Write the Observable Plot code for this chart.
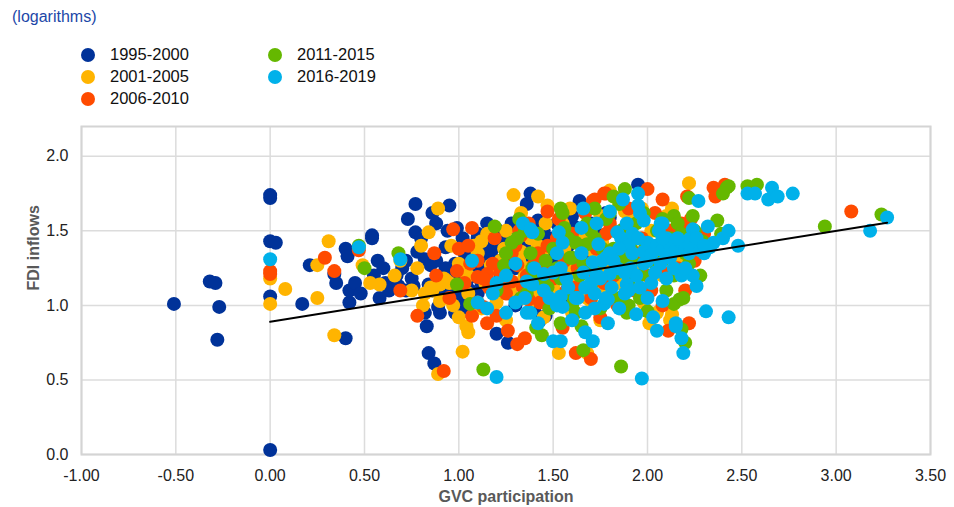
<!DOCTYPE html>
<html>
<head>
<meta charset="utf-8">
<script src="https://cdn.jsdelivr.net/npm/d3@7"></script>
<script src="https://cdn.jsdelivr.net/npm/@observablehq/plot@0.6"></script>
<style>
  body { margin: 0; background: #fff; font-family: "Liberation Sans", Arial, sans-serif; }
  #wrap { position: relative; width: 954px; height: 507px; overflow: hidden; }
  #title { position: absolute; left: 12px; top: 8px; font-size: 16px; color: #1c47a8; }
  .leg { position: absolute; font-size: 16.5px; color: #111; display: flex; align-items: center; }
  .leg span.sw { width: 14px; height: 14px; border-radius: 50%; display: inline-block; margin-right: 15px; }
  #chart { position: absolute; left: 0; top: 118px; }
</style>
</head>
<body>
<div id="wrap">
  <div id="title">(logarithms)</div>
  <div id="legend"></div>
  <div id="chart"></div>
</div>
<script>
// Period labels and colours
const periods = ["1995-2000", "2001-2005", "2006-2010", "2011-2015", "2016-2019"];
const colors = ["#003299", "#ffb400", "#ff4b00", "#65b800", "#00b1ea"];

// Points: [GVC participation, FDI inflows] (logarithms)
const s1995 = [[-0.51,1.01],[-0.32,1.16],[-0.29,1.15],[-0.27,0.99],[-0.28,0.77],[0,1.74],[0,1.72],[0,1.43],[0.03,1.42],[0,1.06],[0,0.03],[0.17,1.01],[0.21,1.27],[0.34,1.21],[0.35,1.15],[0.40,1.38],[0.41,1.33],[0.40,0.78],[0.42,1.02],[0.42,1.10],[0.54,1.47],[0.54,1.45],[0.57,1.30],[0.61,1.15],[0.63,1.10],[0.67,1.20],[0.73,1.58],[0.77,1.68],[0.77,1.49],[0.80,1.45],[0.82,1.31],[0.85,1.27],[0.84,1.14],[0.82,0.95],[0.83,0.86],[0.84,0.68],[0.87,0.61],[0.93,1.39],[0.95,1.67],[0.88,1.55],[0.86,1.62],[0.94,1.50],[0.89,0.99],[0.90,0.95],[0.98,0.95],[1.02,1.05],[1.06,1.10],[1.02,1.23],[1.09,1.37],[1.10,1.45],[1.15,1.35],[1.10,1.08],[1.20,0.81],[1.26,0.75],[1.18,1.49],[1.20,1.51],[1.30,1.00],[1.40,1.23],[1.36,1.68],[1.38,1.75],[1.42,1.57],[1.46,1.43],[1.50,1.29],[1.54,1.03],[1.61,1.53],[1.64,1.70],[1.72,1.51],[1.80,1.59],[1.95,1.81],[0.95,1.20],[0.98,1.28],[1.00,1.12],[1.03,1.35],[1.05,1.18],[1.08,1.05],[1.12,1.22],[1.13,1.40],[1.17,1.12],[1.20,1.30],[1.22,1.18],[1.25,1.42],[1.27,1.08],[1.30,1.25],[1.33,1.15],[1.35,1.38],[1.37,1.05],[1.42,1.20],[1.45,1.32],[1.48,1.12],[1.50,1.45],[1.55,1.25],[1.58,1.40],[1.62,1.15],[1.40,0.96],[1.43,0.90],[1.46,0.93],[0.88,1.30],[0.92,1.10],[0.75,1.18],[0.70,1.25],[0.65,1.12],[0.58,1.05],[0.55,1.20],[0.45,1.15],[0.48,1.08],[1.10,1.48],[1.15,1.55],[1.02,1.45],[0.99,1.52],[1.28,1.55],[1.32,1.48],[1.52,1.55],[1.60,1.60],[1.70,1.55],[1.75,1.45],[1.78,1.62],[0.68,1.13],[0.72,1.10],[0.76,1.13],[0.86,1.10],[0.90,1.12],[0.96,1.08],[1.05,1.30],[1.08,1.22],[1.12,1.30],[1.18,1.38],[1.22,1.45],[1.27,1.30],[1.33,1.40],[1.38,1.30],[1.45,1.50],[1.48,1.38],[1.52,1.20],[1.57,1.33],[1.12,1.15],[1.00,1.17],[0.93,1.25],[0.78,1.36],[0.72,1.30],[0.60,1.25],[1.40,1.45],[1.55,1.48],[1.65,1.40],[1.68,1.30],[1.02,0.98],[1.60,1.08]];
const s2001 = [[0,1.01],[0,1.18],[0.08,1.11],[0.25,1.05],[0.25,1.27],[0.31,1.43],[0.34,0.80],[0.49,1.27],[0.53,1.15],[0.58,1.14],[0.66,1.20],[0.69,1.30],[0.80,1.40],[0.84,1.49],[0.89,1.65],[0.81,1.00],[0.82,1.08],[0.90,1.03],[0.89,0.54],[0.78,1.25],[0.86,1.10],[0.90,1.14],[0.93,1.17],[1.02,1.23],[1.04,0.86],[1.02,0.69],[1.05,0.82],[1.25,1.50],[1.29,1.74],[1.33,1.62],[1.42,1.73],[1.47,1.67],[1.53,0.68],[1.54,1.43],[1.59,1.65],[1.68,0.68],[1.80,1.77],[1.88,1.63],[2.22,1.82],[1.75,1.13],[1.70,1.03],[1.62,1.30],[1.43,1.33],[1.33,1.36],[1.22,1.23],[1.27,1.10],[1.38,1.03],[1.12,1.43],[1.17,1.27],[2.13,0.94],[2.01,0.88],[1.97,1.65],[2.13,1.65],[1.75,0.90],[1.86,1.00],[0.85,1.12],[0.92,1.18],[0.96,1.40],[1.00,1.28],[1.05,1.08],[1.10,1.35],[1.14,1.15],[1.18,1.25],[1.20,1.02],[1.24,1.38],[1.28,1.12],[1.32,1.30],[1.35,1.20],[1.38,1.45],[1.40,1.10],[1.44,1.35],[1.48,1.22],[1.52,1.05],[1.55,1.55],[1.58,1.30],[1.62,1.18],[1.65,1.45],[1.68,1.05],[1.72,1.35],[1.75,1.60],[1.78,1.25],[1.82,1.50],[1.85,1.15],[1.88,1.40],[1.92,1.60],[1.95,1.25],[1.98,1.02],[2.02,1.50],[2.05,0.95],[2.10,1.60],[2.15,1.45],[2.18,1.30],[2.12,0.90],[1.60,0.95],[1.45,0.92],[1.25,0.90],[1.12,0.98],[0.97,1.00],[1.00,0.92],[1.08,1.40],[1.15,1.48],[1.22,1.30],[1.30,1.15],[1.36,1.25],[1.42,1.40],[1.46,1.55],[1.50,1.12],[1.56,1.38],[1.60,1.22],[1.66,1.52],[1.70,1.28],[1.76,1.42],[1.80,1.10],[1.90,1.30],[2.00,1.40],[2.08,1.20],[0.75,1.10],[0.95,1.15],[1.05,1.20]];
const s2006 = [[0,1.21],[0,1.23],[0.29,1.32],[0.34,1.23],[0.47,1.37],[0.69,1.10],[0.78,0.93],[0.92,0.56],[0.87,1.35],[0.97,1.51],[1.07,1.52],[0.99,1.23],[1.10,1.19],[1.15,1.21],[1.13,0.99],[1.07,0.93],[1.15,0.88],[1.19,1.45],[1.31,1.27],[1.28,1.16],[1.26,0.83],[1.31,0.74],[1.37,1.04],[1.32,1.50],[1.33,1.47],[1.47,1.63],[1.77,1.75],[2.00,1.78],[2.08,1.71],[1.72,1.71],[1.62,0.68],[1.70,0.64],[2.11,0.83],[2.35,1.79],[2.41,1.81],[2.36,1.73],[3.08,1.63],[2.21,1.73],[1.71,1.70],[1.78,1.75],[2.23,1.58],[2.10,1.21],[0.88,1.20],[0.95,1.05],[1.00,1.38],[1.03,1.15],[1.06,1.28],[1.10,1.02],[1.13,1.18],[1.16,1.12],[1.22,1.22],[1.25,1.08],[1.28,1.35],[1.34,1.12],[1.37,1.55],[1.40,1.28],[1.43,1.02],[1.47,1.40],[1.50,1.18],[1.53,1.58],[1.57,1.10],[1.60,1.48],[1.63,1.25],[1.67,1.62],[1.70,1.05],[1.73,1.38],[1.77,1.15],[1.80,1.55],[1.84,1.00],[1.87,1.30],[1.90,1.65],[1.93,1.10],[1.97,1.45],[2.00,1.20],[2.04,1.62],[2.08,1.00],[2.12,1.50],[2.16,1.25],[2.20,1.10],[2.22,0.88],[1.75,0.92],[1.55,0.85],[1.35,0.78],[1.20,0.93],[2.25,1.30],[2.30,1.48],[1.05,1.40],[1.10,1.30],[1.18,1.28],[1.24,1.15],[1.30,1.40],[1.36,1.20],[1.42,1.35],[1.46,1.25],[1.52,1.45],[1.56,1.30],[1.62,1.12],[1.66,1.40],[1.72,1.22],[1.78,1.48],[1.82,1.20],[1.88,1.52],[1.95,1.35],[2.02,1.10],[2.10,1.35],[2.18,1.55]];
const s2011 = [[0.47,1.40],[0.50,1.25],[0.68,1.35],[0.99,1.14],[1.06,1.01],[1.13,0.57],[1.19,1.53],[1.24,1.27],[1.32,1.58],[1.31,1.45],[1.39,1.25],[1.36,1.08],[1.41,0.85],[1.44,0.80],[1.54,1.65],[1.88,1.78],[1.82,1.73],[2.14,1.60],[1.86,0.59],[1.54,0.88],[1.65,0.86],[1.66,0.70],[1.60,1.32],[1.68,1.41],[1.86,1.32],[1.47,1.12],[2.14,1.01],[1.89,0.95],[1.88,0.98],[2.42,1.79],[2.43,1.80],[2.53,1.80],[2.58,1.81],[2.94,1.53],[3.24,1.61],[2.37,1.57],[2.39,1.48],[2.24,1.60],[2.22,1.72],[1.59,1.32],[1.70,1.25],[1.91,1.39],[2.17,1.04],[2.19,1.05],[2.18,0.84],[2.20,0.75],[2.29,1.43],[2.40,1.75],[1.20,1.10],[1.28,1.42],[1.33,1.05],[1.38,1.35],[1.42,1.48],[1.45,1.15],[1.50,1.38],[1.52,1.25],[1.56,1.52],[1.58,1.08],[1.62,1.42],[1.64,1.20],[1.68,1.55],[1.70,1.12],[1.72,1.45],[1.74,1.28],[1.78,1.58],[1.80,1.05],[1.82,1.38],[1.84,1.22],[1.86,1.50],[1.90,1.15],[1.92,1.30],[1.94,1.55],[1.96,1.05],[1.99,1.40],[2.02,1.20],[2.05,1.50],[2.08,1.30],[2.10,1.10],[2.12,1.45],[2.16,1.55],[2.20,1.35],[2.25,1.50],[2.28,1.20],[1.48,0.98],[1.62,0.95],[1.75,0.98],[1.90,1.00],[2.00,0.96],[1.55,1.62],[1.72,1.65],[1.85,1.68],[1.98,1.62],[1.25,1.35],[1.35,1.50],[1.40,1.18],[1.46,1.30],[1.54,1.18],[1.58,1.45],[1.66,1.28],[1.70,1.50],[1.76,1.38],[1.80,1.62],[1.88,1.25],[1.92,1.45],[1.96,1.20],[2.04,1.28],[2.08,1.58],[2.14,1.20],[2.18,1.48],[2.22,1.28],[1.60,1.00],[1.85,1.05]];
const s2016 = [[0,1.31],[0.47,1.39],[0.69,1.31],[1.07,1.30],[1.34,1.55],[1.39,1.49],[1.39,1.14],[1.18,1.08],[1.25,0.95],[1.30,1.02],[1.36,0.95],[1.20,0.52],[1.95,1.75],[1.95,1.67],[1.80,1.63],[1.66,1.65],[1.73,1.55],[1.38,1.51],[1.53,1.49],[1.55,1.42],[1.65,1.52],[1.89,1.55],[1.98,1.57],[2.07,1.55],[1.84,1.49],[1.74,1.41],[1.78,1.32],[1.71,1.29],[1.54,1.25],[1.73,1.21],[1.80,1.21],[1.91,1.25],[2.00,1.30],[2.07,1.28],[2.03,1.40],[2.14,1.38],[1.81,1.12],[1.89,1.14],[1.96,1.12],[1.67,1.12],[1.54,1.06],[1.63,1.05],[1.55,0.99],[1.79,1.04],[1.77,1.01],[1.38,0.95],[1.36,1.16],[1.45,1.21],[1.67,0.95],[1.79,0.88],[1.94,0.94],[2.03,0.92],[2.05,0.83],[1.50,0.76],[1.54,0.76],[1.71,0.76],[1.67,0.82],[1.97,0.51],[2.15,0.88],[2.27,1.70],[2.53,1.75],[2.57,1.75],[2.66,1.79],[2.64,1.71],[2.69,1.73],[2.77,1.75],[2.32,1.53],[2.43,1.50],[2.48,1.40],[2.33,1.39],[2.24,1.51],[2.23,1.45],[2.14,1.43],[2.10,1.40],[2.17,1.39],[2.08,1.55],[2.24,1.20],[2.26,1.13],[2.18,1.20],[2.14,1.25],[2.08,1.03],[2.31,0.96],[2.43,0.92],[2.15,0.86],[2.18,0.78],[2.19,0.68],[3.18,1.50],[3.27,1.59],[1.87,1.71],[1.40,1.25],[1.48,1.05],[1.52,1.35],[1.57,1.18],[1.62,1.05],[1.65,1.35],[1.70,1.15],[1.76,1.30],[1.78,1.05],[1.84,1.25],[1.86,1.45],[1.88,1.08],[1.92,1.48],[1.94,1.20],[1.96,1.62],[2.00,1.42],[2.02,1.15],[2.05,1.40],[2.06,1.50],[2.08,1.37],[2.10,1.45],[2.12,1.40],[2.15,1.37],[2.18,1.42],[2.20,1.38],[2.22,1.44],[2.25,1.40],[2.28,1.37],[1.98,1.36],[2.02,1.34],[1.90,1.40],[1.85,1.38],[1.80,1.35],[1.45,1.10],[1.30,1.28],[1.25,1.20],[1.35,1.05],[1.20,1.15],[1.42,0.88],[1.60,0.90],[1.72,0.98],[1.85,0.98],[2.00,1.05],[2.10,1.18],[2.20,1.25],[2.30,1.35],[2.35,1.42],[2.40,1.45],[1.15,0.98],[1.10,1.02],[1.50,1.22],[1.66,1.22],[1.75,1.18],[1.82,1.30],[1.88,1.22],[1.92,1.35],[1.95,1.45],[1.98,1.28],[2.04,1.22],[2.08,1.45],[2.12,1.32],[2.16,1.45],[2.22,1.35],[2.26,1.45],[2.30,1.40],[1.58,1.12],[1.72,1.08],[1.90,1.10],[1.52,1.00]];

// Fitted line end points
const lineX = [0, 3.27];
const lineY = [0.89, 1.555];

// Axis ticks
const xTicks = [-1, -0.5, 0, 0.5, 1, 1.5, 2, 2.5, 3, 3.5];
const yTicks = [0, 0.5, 1, 1.5, 2];

const seriesList = [s1995, s2001, s2006, s2011, s2016];
const points = seriesList.flatMap((s, i) => s.map(([x, y]) => ({x, y, period: periods[i]})));
const fit = lineX.map((x, i) => ({x, y: lineY[i]}));

// Legend
const legend = document.getElementById("legend");
const legPos = [[81, 45], [81, 67], [81, 89], [268, 45], [268, 67]];
periods.forEach((p, i) => {
  const d = document.createElement("div");
  d.className = "leg";
  d.style.left = legPos[i][0] + "px";
  d.style.top = legPos[i][1] + "px";
  d.innerHTML = `<span class="sw" style="background:${colors[i]}"></span>${p}`;
  legend.appendChild(d);
});

const fmtX = v => d3.format(".2f")(v).replace("−", "-");
const fmtY = v => d3.format(".1f")(v).replace("−", "-");

const chart = Plot.plot({
  width: 954,
  height: 389,
  marginTop: 8,
  marginBottom: 53,
  marginLeft: 81,
  marginRight: 24,
  style: {fontFamily: "'Liberation Sans', Arial, sans-serif", fontSize: "16px", color: "#222", background: "#fff"},
  x: {domain: [-1, 3.5]},
  y: {domain: [0, 2.2]},
  color: {domain: periods, range: colors},
  marks: [
    Plot.gridX(xTicks, {stroke: "#dcdcdc", strokeOpacity: 1, strokeWidth: 1.5}),
    Plot.gridY(yTicks, {stroke: "#dcdcdc", strokeOpacity: 1, strokeWidth: 1.5}),
    Plot.frame({stroke: "#d4d4d4", strokeWidth: 2}),
    Plot.axisX(xTicks, {tickSize: 0, tickPadding: 15, tickFormat: fmtX, label: null, fill: "#222", fontSize: 16}),
    Plot.axisY(yTicks, {tickSize: 0, tickPadding: 13, tickFormat: fmtY, label: null, fill: "#222", fontSize: 16}),
    Plot.dot(points, {x: "x", y: "y", fill: "period", r: 7, stroke: "none"}),
    Plot.line(fit, {x: "x", y: "y", stroke: "#000", strokeWidth: 2}),
    Plot.text(["FDI inflows"], {frameAnchor: "left", dx: -48, rotate: -90, fontWeight: "bold", fill: "#595959", fontSize: 16}),
    Plot.text(["GVC participation"], {frameAnchor: "bottom", dy: 47, fontWeight: "bold", fill: "#595959", fontSize: 16})
  ]
});
document.getElementById("chart").appendChild(chart);
</script>
</body>
</html>
